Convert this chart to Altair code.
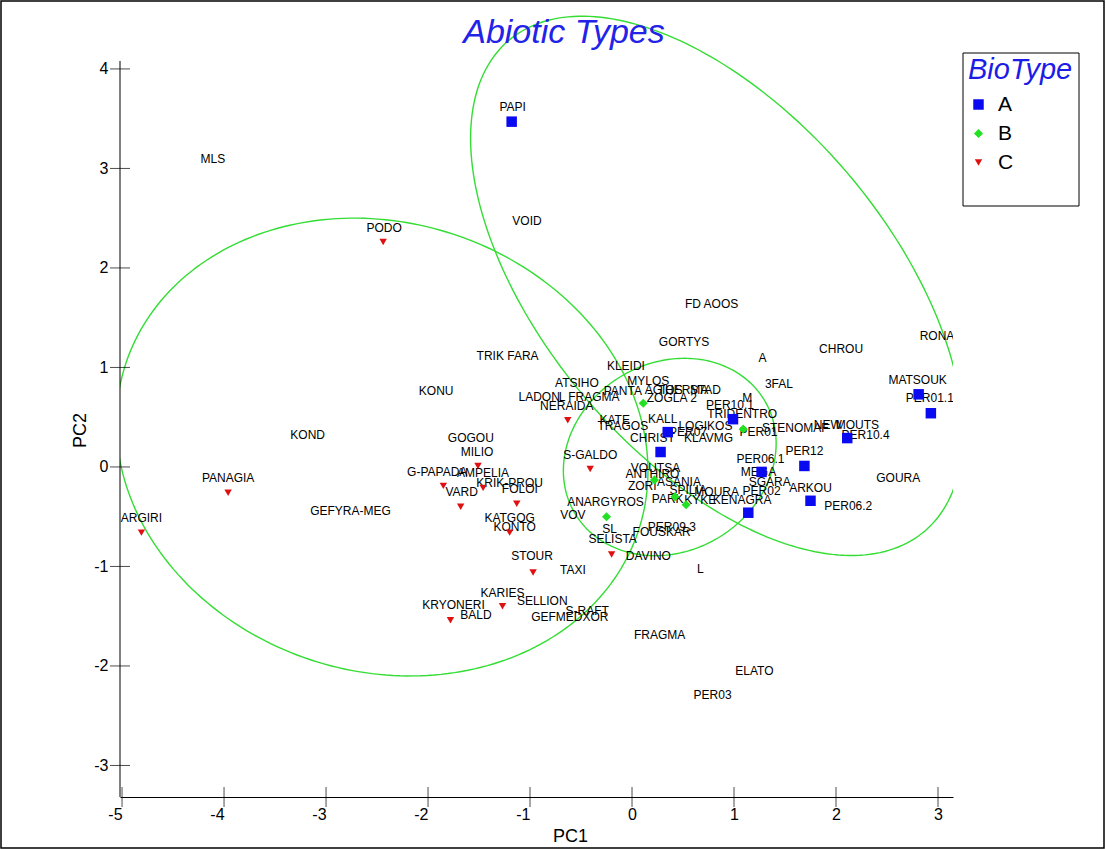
import altair as alt
import numpy as np
import pandas as pd

# ---- site scores on the first two principal components, by biotype ----
a_x = [-1.18, 2.81, 2.93, 2.11, 0.99, 0.35, 0.28, 1.27, 1.69, 1.75, 1.14]
a_y = [3.47, 0.73, 0.54, 0.29, 0.48, 0.35, 0.15, -0.05, 0.01, -0.34, -0.46]

b_x = [0.11, 1.09, 0.22, 0.42, 0.53, -0.25]
b_y = [0.64, 0.38, -0.13, -0.30, -0.38, -0.50]

c_x = [-2.44, -4.81, -3.96, -1.51, -1.85, -1.46, -1.68, -1.13, -1.20, -0.97,
       -0.41, -0.20, -1.27, -1.78, -0.63]
c_y = [2.26, -0.66, -0.26, 0.01, -0.19, -0.21, -0.40, -0.37, -0.66, -1.06,
       -0.02, -0.88, -1.40, -1.54, 0.47]

# ---- site names and where they sit in the PC plane ----
site_names = [
    "PAPI", "VOID", "MLS", "PODO", "FD AOOS", "GORTYS", "A", "CHROU", "RONA",
    "TRIK FARA", "KLEIDI", "MYLOS", "ATSIHO", "3FAL", "M", "KONU", "LADON",
    "L FRAGMA", "NERAIDA", "PANTA", "AGIOS", "THERMA", "STAD", "ZOGLA 2",
    "KATE", "TRAGOS", "KALL", "PER10.1", "TRIDENTRO", "LOGIKOS", "PER07",
    "CHRIST", "KLAVMG", "PER01", "STENOMAF", "NEW", "MOUTS", "PER10.4",
    "PER12", "PER06.1", "MEGA", "SGARA", "ARKOU", "PER02", "MOURA", "PARK",
    "KYKE", "KENAGRA", "SPILIA", "ZORI", "ASANIA", "VOUTSA", "ANTHIRO",
    "ANARGYROS", "VOV", "SL", "SELISTA", "FOUSKAR", "PER09.3", "DAVINO", "L",
    "TAXI", "FRAGMA", "ELATO", "PER03", "S-RAFT", "GEFMEDXOR", "SELLION",
    "KARIES", "KRYONERI", "BALD", "STOUR", "KATGOG", "KONTO", "FOLOI",
    "KRIK-PROU", "AMPELIA", "G-PAPADA", "VARD", "GEFYRA-MEG", "GOGOU",
    "MILIO", "S-GALDO", "KOND", "PANAGIA", "ARGIRI", "MATSOUK", "PER01.1",
    "GOURA", "PER06.2",
]
site_x = [
    -1.17, -1.03, -4.11, -2.43, 0.78, 0.51, 1.28, 2.05, 2.99,
    -1.22, -0.06, 0.16, -0.54, 1.44, 1.13, -1.92, -0.91,
    -0.42, -0.64, -0.09, 0.31, 0.50, 0.72, 0.39,
    -0.17, -0.09, 0.30, 0.96, 1.08, 0.72, 0.55,
    0.20, 0.75, 1.24, 1.60, 1.92, 2.21, 2.29,
    1.69, 1.26, 1.24, 1.35, 1.75, 1.27, 0.83, 0.35,
    0.67, 1.08, 0.55, 0.10, 0.46, 0.23, 0.20,
    -0.26, -0.58, -0.22, -0.19, 0.29, 0.39, 0.16, 0.67,
    -0.58, 0.27, 1.20, 0.79, -0.44, -0.61, -0.88,
    -1.27, -1.75, -1.53, -0.98, -1.20, -1.15, -1.10,
    -1.20, -1.46, -1.91, -1.67, -2.76, -1.58,
    -1.52, -0.41, -3.18, -3.96, -4.81, 2.80, 2.92,
    2.61, 2.12,
]
site_y = [
    3.62, 2.47, 3.09, 2.40, 1.64, 1.26, 1.09, 1.19, 1.32,
    1.11, 1.01, 0.86, 0.84, 0.83, 0.69, 0.76, 0.70,
    0.70, 0.61, 0.76, 0.77, 0.77, 0.77, 0.69,
    0.47, 0.41, 0.48, 0.62, 0.53, 0.41, 0.35,
    0.29, 0.29, 0.35, 0.39, 0.42, 0.42, 0.32,
    0.16, 0.08, -0.05, -0.15, -0.21, -0.24, -0.25, -0.32,
    -0.33, -0.33, -0.23, -0.19, -0.15, -0.01, -0.07,
    -0.35, -0.48, -0.62, -0.72, -0.65, -0.60, -0.90, -1.03,
    -1.04, -1.69, -2.05, -2.29, -1.45, -1.51, -1.35,
    -1.27, -1.39, -1.49, -0.90, -0.51, -0.60, -0.22,
    -0.16, -0.06, -0.05, -0.25, -0.44, 0.29,
    0.15, 0.12, 0.32, -0.11, -0.51, 0.87, 0.69,
    -0.11, -0.39,
]

# ---- group ellipses: centre, semi-axes and tilt (degrees) ----
ell_group = ["A", "B", "C"]
ell_cx = [0.83, 0.37, -2.45]
ell_cy = [1.82, 0.10, 0.20]
ell_a = [3.20, 1.09, 2.65]
ell_b = [1.71, 0.94, 2.25]
ell_deg = [-51.0, 35.0, -20.0]

# ---- axis ticks ----
x_ticks = [-5, -4, -3, -2, -1, 0, 1, 2, 3]
y_ticks = [-3, -2, -1, 0, 1, 2, 3, 4]

types = ["A", "B", "C"]
type_colors = ["#0a0af0", "#22e022", "#e01010"]
type_shapes = ["square", "diamond", "triangle-down"]
type_sizes = [110, 55, 75]

FONT = "Liberation Sans"
W, H = 833, 782
xs = alt.Scale(domain=[-5.02, 3.147], nice=False, zero=False)
ys = alt.Scale(domain=[-3.317, 4.542], nice=False, zero=False)

pts = pd.DataFrame({
    "PC1": a_x + b_x + c_x,
    "PC2": a_y + b_y + c_y,
    "BioType": ["A"] * len(a_x) + ["B"] * len(b_x) + ["C"] * len(c_x),
})
names = pd.DataFrame({"PC1": site_x, "PC2": site_y, "name": site_names})

rows = []
t = np.linspace(0, 2 * np.pi, 241)
for g, cx, cy, a, b, d in zip(ell_group, ell_cx, ell_cy, ell_a, ell_b, ell_deg):
    th = np.radians(d)
    ex = cx + a * np.cos(t) * np.cos(th) - b * np.sin(t) * np.sin(th)
    ey = cy + a * np.cos(t) * np.sin(th) + b * np.sin(t) * np.cos(th)
    for k, (px, py) in enumerate(zip(ex, ey)):
        rows.append({"PC1": px, "PC2": py, "g": g, "k": k})
ell = pd.DataFrame(rows)

x_axis = alt.Axis(
    values=x_ticks, ticks=False, grid=False, domainColor="black", domainWidth=1,
    labelExpr="'' + datum.value", labelFont=FONT, labelFontSize=16,
    labelAlign={"condition": {"test": "datum.value < 0", "value": "right"}, "value": "center"},
    labelColor="black", labelPadding=9, title="PC1", titleFont=FONT,
    titleFontSize=18, titleFontWeight="normal", titleColor="black",
    titleX=450, titleY=39, titleBaseline="middle", titleAlign="center",
)
y_axis = alt.Axis(
    values=y_ticks, ticks=False, grid=False, domain=False,
    labelExpr="'' + datum.value", labelFont=FONT, labelFontSize=16,
    labelColor="black", labelPadding=12, title="PC2", titleFont=FONT,
    titleFontSize=18, titleFontWeight="normal", titleColor="black",
    titleX=-40, titleY=415, titleBaseline="middle", titleAlign="center",
    titleAngle=270,
)

ellipses = alt.Chart(ell).mark_line(clip=True, color="#33dd33", strokeWidth=1.4).encode(
    x=alt.X("PC1:Q", scale=xs, axis=x_axis),
    y=alt.Y("PC2:Q", scale=ys, axis=y_axis),
    detail="g:N",
    order="k:Q",
)

legend = alt.Legend(
    orient="none", legendX=848, legendY=41, title="BioType",
    titleFont=FONT, titleFontSize=29, titleFontStyle="italic",
    titleFontWeight="normal", titleColor="#1c1ce8", titlePadding=9,
    labelFont=FONT, labelFontSize=21, labelColor="black", labelOffset=9,
    symbolSize=55, rowPadding=7, symbolStrokeWidth=0,
)
points = alt.Chart(pts).mark_point(filled=True, opacity=1).encode(
    x=alt.X("PC1:Q", scale=xs),
    y=alt.Y("PC2:Q", scale=ys),
    color=alt.Color("BioType:N", scale=alt.Scale(domain=types, range=type_colors), legend=legend),
    shape=alt.Shape("BioType:N", scale=alt.Scale(domain=types, range=type_shapes), legend=legend),
    size=alt.Size("BioType:N", scale=alt.Scale(domain=types, range=type_sizes), legend=None),
)

texts = alt.Chart(names).mark_text(
    clip=True, font=FONT, fontSize=12, color="black", align="center", baseline="middle"
).encode(
    x=alt.X("PC1:Q", scale=xs),
    y=alt.Y("PC2:Q", scale=ys),
    text="name:N",
)

# vertical axis line from the lowest to just above the highest tick
yline = alt.Chart(pd.DataFrame({"y0": [-3.317], "y1": [4.08]})).mark_rule(color="black").encode(
    x=alt.value(0), y=alt.Y("y0:Q", scale=ys), y2="y1:Q"
)
yt = alt.Chart(pd.DataFrame({"v": y_ticks})).mark_tick(
    orient="horizontal", size=20, thickness=1, color="black"
).encode(y=alt.Y("v:Q", scale=ys), x=alt.value(0))
xt = alt.Chart(pd.DataFrame({"v": x_ticks})).mark_tick(
    orient="vertical", size=20, thickness=1, color="black"
).encode(x=alt.X("v:Q", scale=xs), y=alt.value(H))

title = alt.Chart(pd.DataFrame({"t": ["Abiotic Types"]})).mark_text(
    font=FONT, fontSize=34, fontStyle="italic", color="#2323e8", align="center", baseline="middle"
).encode(x=alt.value(444), y=alt.value(18), text="t:N")

box = alt.Chart(pd.DataFrame({"k": [0]})).mark_rect(
    filled=False, stroke="black", strokeWidth=1
).encode(x=alt.value(843), x2=alt.value(959), y=alt.value(38), y2=alt.value(191))

frame = alt.Chart(pd.DataFrame({"k": [0]})).mark_rect(
    filled=False, stroke="black", strokeWidth=1.5
).encode(x=alt.value(-119), x2=alt.value(984), y=alt.value(-14), y2=alt.value(833))

chart = alt.layer(
    ellipses, texts, points, yline, yt, xt, title, box, frame
).properties(
    width=W, height=H,
    padding={"left": 120, "top": 15, "right": 153, "bottom": 52},
    autosize="none", background="white",
).configure_view(stroke=None)

chart.save("out.html", embed_options={"renderer": "svg", "actions": False})
